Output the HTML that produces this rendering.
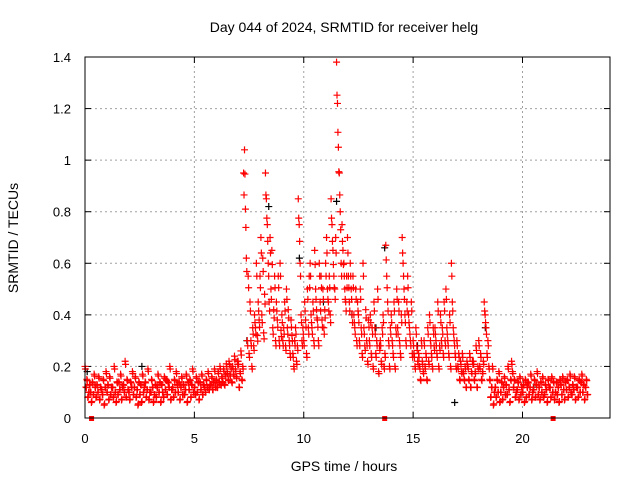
<!DOCTYPE html>
<html><head><meta charset="utf-8"><style>
body{margin:0;background:#fff}
svg{display:block;font-family:"Liberation Sans",sans-serif}
</style></head><body>
<svg id="chart" width="640" height="480" viewBox="0 0 640 480">
<text x="344" y="32" font-size="14" text-anchor="middle">Day 044 of 2024, SRMTID for receiver helg</text>
<text x="344" y="471" font-size="14" text-anchor="middle">GPS time / hours</text>
<text x="0" y="0" font-size="14" text-anchor="middle" transform="translate(18,238) rotate(-90)">SRMTID / TECUs</text>
<g id="grid"></g>
<g id="ticks"></g>
<g id="marks"></g>
<rect x="85" y="57" width="525" height="361" fill="none" stroke="#000" stroke-width="1"/>
</svg>
<script>
const xTicks=[0,5,10,15,20];
const yTicks=[0,0.2,0.4,0.6,0.8,1,1.2,1.4];
const yTickLabels=["0","0.2","0.4","0.6","0.8","1","1.2","1.4"];
const rowTimes=[0,0.25,0.5,0.75,1,1.25,1.5,1.75,2,2.25,2.5,2.75,3,3.25,3.5,3.75,4,4.25,4.5,4.75,5,5.25,5.5,5.75,6,6.25,6.5,6.75,7,7.25,7.5,7.75,8,8.25,8.5,8.75,9,9.25,9.5,9.75,10,10.25,10.5,10.75,11,11.25,11.5,11.75,12,12.25,12.5,12.75,13,13.25,13.5,13.75,14,14.25,14.5,14.75,15,15.25,15.5,15.75,16,16.25,16.5,16.75,17,17.25,17.5,17.75,18,18.25,18.5,18.75,19,19.25,19.5,19.75,20,20.25,20.5,20.75,21,21.25,21.5,21.75,22,22.25,22.5,22.75];
const rowValues=[
[.2,.12,.15,.08,.1,.13],[.1,.06,.14,.09,.17,.12],[.08,.13,.1,.16,.07,.12],[.11,.09,.15,.05,.12,.18],
[.1,.13,.07,.16,.09,.12],[.12,.08,.2,.1,.06,.14],[.09,.14,.11,.17,.07,.12],[.13,.1,.22,.08,.15,.11],
[.1,.07,.14,.12,.18,.09],[.12,.16,.08,.11,.05,.14],[.09,.13,.06,.17,.1,.12],[.14,.08,.11,.19,.07,.1],
[.1,.15,.12,.06,.09,.13],[.08,.12,.17,.1,.14,.06],[.13,.1,.08,.16,.11,.15],[.09,.14,.12,.2,.07,.11],
[.12,.08,.15,.1,.18,.13],[.1,.14,.07,.12,.16,.09],[.13,.09,.11,.17,.06,.14],[.11,.15,.08,.13,.19,.1],
[.12,.09,.16,.1,.14,.07],[.14,.11,.17,.09,.13,.12],[.1,.15,.12,.18,.11,.13],[.13,.16,.11,.14,.19,.12],
[.15,.12,.18,.14,.2,.13],[.16,.14,.19,.13,.17,.21],[.18,.15,.22,.17,.2,.14],[.2,.17,.24,.19,.16,.22],
[.22,.12,.18,.26,.15,.2],[.95,1.04,.81,.62,.3,.55],[.25,.45,.3,.2,.35,.28],[.4,.35,.6,.32,.45,.38],
[.55,.7,.4,.62,.33,.48],[.95,.85,.75,.6,.45,.7],[.5,.65,.35,.42,.55,.3],[.45,.38,.55,.3,.6,.34],
[.4,.3,.35,.45,.28,.5],[.35,.42,.3,.25,.38,.32],[.25,.2,.3,.35,.22,.28],[.85,.75,.6,.4,.3,.35],
[.3,.45,.38,.25,.5,.35],[.55,.6,.4,.35,.45,.3],[.65,.5,.42,.38,.3,.6],[.45,.55,.38,.5,.35,.42],
[.6,.7,.5,.45,.55,.4],[.85,.75,.65,.55,.5,.7],[1.38,1.22,1.05,.95,.8,.6],[.75,.65,.6,.5,.45,.55],
[.7,.55,.45,.6,.5,.4],[.55,.4,.35,.5,.3,.45],[.4,.3,.5,.35,.25,.6],[.35,.28,.42,.3,.22,.38],
[.3,.4,.25,.35,.2,.45],[.35,.25,.3,.5,.18,.28],[.3,.22,.35,.4,.2,.25],[.67,.55,.45,.3,.2,.35],
[.4,.3,.25,.45,.2,.35],[.5,.35,.45,.3,.25,.4],[.7,.6,.5,.4,.3,.45],[.55,.4,.35,.3,.45,.25],
[.3,.25,.2,.35,.28,.22],[.25,.2,.15,.3,.22,.18],[.3,.2,.25,.15,.35,.22],[.4,.3,.25,.2,.35,.28],
[.35,.3,.25,.45,.2,.28],[.4,.3,.35,.25,.45,.3],[.5,.35,.3,.25,.4,.2],[.6,.45,.35,.3,.25,.2],
[.3,.2,.25,.15,.22,.18],[.25,.18,.15,.2,.12,.22],[.2,.15,.25,.12,.18,.22],[.22,.15,.18,.28,.12,.2],
[.3,.2,.25,.15,.18,.22],[.45,.4,.35,.25,.3,.2],[.15,.08,.12,.2,.05,.1],[.12,.08,.15,.1,.18,.06],
[.1,.14,.07,.12,.16,.09],[.13,.09,.2,.11,.06,.15],[.22,.18,.12,.15,.08,.1],[.11,.14,.07,.16,.09,.12],
[.1,.13,.06,.15,.08,.12],[.14,.09,.12,.17,.07,.1],[.11,.15,.08,.13,.18,.09],[.12,.07,.14,.1,.16,.08],
[.09,.13,.11,.06,.15,.12],[.12,.08,.16,.1,.14,.07],[.1,.14,.09,.12,.06,.15],[.13,.09,.16,.11,.07,.14],
[.11,.15,.08,.12,.17,.1],[.09,.13,.11,.16,.07,.12],[.12,.08,.15,.1,.14,.17],[.1,.13,.07,.12,.15,.09]];
const blackTimes=[0.1,2.6,7.4,8.4,9.8,10.9,11.5,12.2,13.3,13.7,15.2,16.9,18.3,20.5];
const blackValues=[0.18,0.2,0.3,0.82,0.62,0.45,0.84,0.4,0.35,0.66,0.28,0.06,0.35,0.12];
const gapTimes=[0.3,13.7,21.4];

const NS="http://www.w3.org/2000/svg";
const X0=85,X1=610,Y0=418,Y1=57,XMAX=24,YMAX=1.4;
const xs=t=>X0+t/XMAX*(X1-X0);
const ys=v=>Y0-v/YMAX*(Y0-Y1);
function mk(tag,attrs,parent){const e=document.createElementNS(NS,tag);for(const k in attrs)e.setAttribute(k,attrs[k]);parent.appendChild(e);return e;}
const grid=document.getElementById('grid'),ticks=document.getElementById('ticks'),marks=document.getElementById('marks');
xTicks.forEach(t=>{
  const x=xs(t);
  if(t>0){const g=mk('line',{x1:x,y1:Y0,x2:x,y2:Y1,stroke:'#a0a0a0','stroke-dasharray':'2,3'},grid);
  
  }
  mk('line',{x1:x,y1:Y0,x2:x,y2:Y0-6,stroke:'#000'},ticks);
  mk('line',{x1:x,y1:Y1,x2:x,y2:Y1+6,stroke:'#000'},ticks);
  const l=mk('text',{x:x,y:443,'font-size':13,'text-anchor':'middle'},ticks);
  l.textContent=String(t);
  
  
});
yTicks.forEach((v,i)=>{
  const y=ys(v);
  if(v>0&&v<YMAX){const g=mk('line',{x1:X0,y1:y,x2:X1,y2:y,stroke:'#a0a0a0','stroke-dasharray':'2,3'},grid);
  
  }
  mk('line',{x1:X0,y1:y,x2:X0+6,y2:y,stroke:'#000'},ticks);
  mk('line',{x1:X1,y1:y,x2:X1-6,y2:y,stroke:'#000'},ticks);
  const l=mk('text',{x:71,y:y+5,'font-size':13,'text-anchor':'end'},ticks);
  l.textContent=yTickLabels[i];
  
  
});
function plus(t,v,color,name){
  const x=xs(t),y=ys(v);
  const p=mk('path',{d:`M${x-3.5},${y}h7M${x},${y-3.5}v7`,stroke:color,'stroke-width':1.2,fill:'none'},marks);
  
  
}
blackTimes.forEach((t,i)=>plus(t,blackValues[i],'#000','black-point'));
rowTimes.forEach((t,r)=>{
  rowValues[r].forEach((v,j)=>{
    plus(t+j*0.042,v,'#ff0000','red-point');
    plus(t+j*0.042+0.02,v*0.9+0.01,'#ff0000','red-point');
  });
});
gapTimes.forEach(t=>{
  const s=mk('rect',{x:xs(t)-2.5,y:Y0-2,width:5,height:5,fill:'#ff0000'},marks);
  
  
});
</script>
</body></html>
